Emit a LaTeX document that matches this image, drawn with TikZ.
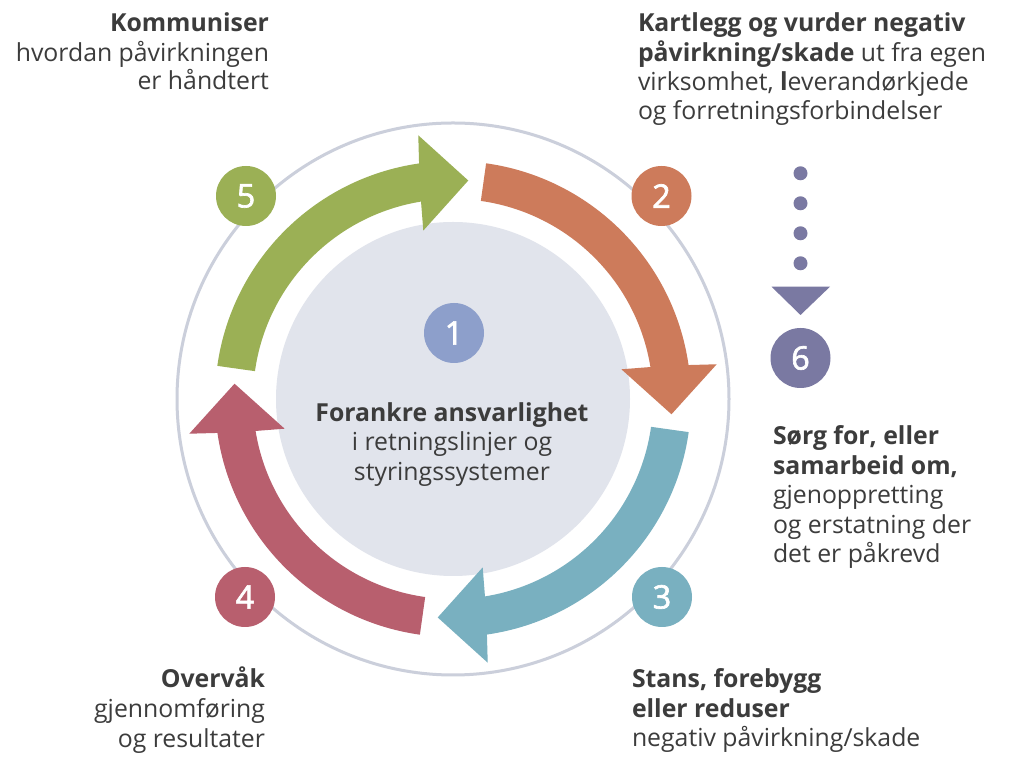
\documentclass[tikz,border=0pt]{standalone}
\usepackage{fontspec}
\setmainfont{Open Sans}
\newfontfamily\numfont[FakeBold=2]{Open Sans}
\definecolor{txt}{HTML}{3C3C3C}
\definecolor{cgreen}{HTML}{9BB055}
\definecolor{corange}{HTML}{CD7B5B}
\definecolor{cblue}{HTML}{79B0C0}
\definecolor{cred}{HTML}{B85F6E}
\definecolor{cpurple}{HTML}{8D9FCB}
\definecolor{cpurpledk}{HTML}{7A79A2}
\definecolor{cgrey}{HTML}{E1E4EC}
\definecolor{cring}{HTML}{CBCFDB}
\tikzset{
  lbl/.style={inner sep=0pt, outer sep=0pt, text=txt, font=\fontsize{24.8}{29}\selectfont},
  numc/.style={circle, minimum size=60pt, inner sep=0pt, text=white, font=\numfont\fontsize{32.5}{32.5}\selectfont},
}
\begin{document}
\begin{tikzpicture}[x=1pt,y=1pt]
\useasboundingbox (0,0) rectangle (1013,784);
\fill[white] (0,0) rectangle (1013,784);
% ring and centre disc
\coordinate (C) at (453,385);
\draw[cring, line width=3pt] (C) circle (276pt);
\fill[cgrey] (C) circle (177pt);
% curved arrows
\begin{scope}[shift={(453,385)}]
\foreach \col/\rot in {cred/0, cgreen/-90, corange/-180, cblue/-270}{
  \fill[\col, rotate=\rot] (262:238pt) arc[start angle=262, end angle=188.2, radius=238pt]
     -- (187.5:266pt) -- (176:219pt) -- (190:171pt) -- (189.2:200pt)
     arc[start angle=189.2, end angle=262, radius=200pt] -- cycle;
}
\end{scope}
% number circles
\node[numc, fill=cpurple] (n1) at (454,451) {1};
\node[numc, fill=corange] (n2) at (661.5,588) {2};
\node[numc, fill=cblue] (n3) at (662,187) {3};
\node[numc, fill=cred] (n4) at (245,187) {4};
\node[numc, fill=cgreen] (n5) at (246,588) {5};
\node[numc, fill=cpurpledk] (n6) at (800.5,426) {6};
% dots and triangle towards 6
\foreach \yy [count=\i] in {610.7,580.7,550.7,520.7}{
  \fill[cpurpledk] (800.5,\yy) circle (7pt);
}
\coordinate (triL) at (771.5,497.3);
\coordinate (triR) at (830,497.3);
\coordinate (triT) at (800.5,469);
\fill[cpurpledk] (triL) -- (triR) -- (triT) -- cycle;
% centre text
\node[lbl, anchor=base] (c1) at (452,362) {\textbf{Forankre ansvarlighet}};
\node[lbl, anchor=base] (c2) at (452,333) {i retningslinjer og};
\node[lbl, anchor=base] (c3) at (452,303) {styringssystemer};
% top left
\node[lbl, anchor=base east] (k1) at (269,752) {\textbf{Kommuniser}};
\node[lbl, anchor=base east] (k2) at (269,722) {hvordan påvirkningen};
\node[lbl, anchor=base east] (k3) at (269,694) {er håndtert};
% top right
\node[lbl, anchor=base west] (r1) at (638,752) {\textbf{Kartlegg og vurder negativ}};
\node[lbl, anchor=base west] (r2) at (638,722.5) {\textbf{påvirkning/skade} ut fra egen};
\node[lbl, anchor=base west] (r3) at (638,693) {virksomhet, \textbf{l}everandørkjede};
\node[lbl, anchor=base west] (r4) at (638,664) {og forretningsforbindelser};
% middle right
\node[lbl, anchor=base west] (s1) at (773,339) {\textbf{Sørg for, eller}};
\node[lbl, anchor=base west] (s2) at (773,309.5) {\textbf{samarbeid om,}};
\node[lbl, anchor=base west] (s3) at (773,280) {gjenoppretting};
\node[lbl, anchor=base west] (s4) at (773,250.5) {og erstatning der};
\node[lbl, anchor=base west] (s5) at (773,221) {det er påkrevd};
% bottom right
\node[lbl, anchor=base west] (b1) at (632,96) {\textbf{Stans, forebygg}};
\node[lbl, anchor=base west] (b2) at (632,66) {\textbf{eller reduser}};
\node[lbl, anchor=base west] (b3) at (632,37) {negativ påvirkning/skade};
% bottom left
\node[lbl, anchor=base east] (o1) at (265,96) {\textbf{Overvåk}};
\node[lbl, anchor=base east] (o2) at (265,66) {gjennomføring};
\node[lbl, anchor=base east] (o3) at (265,36) {og resultater};
\end{tikzpicture}
\end{document}
